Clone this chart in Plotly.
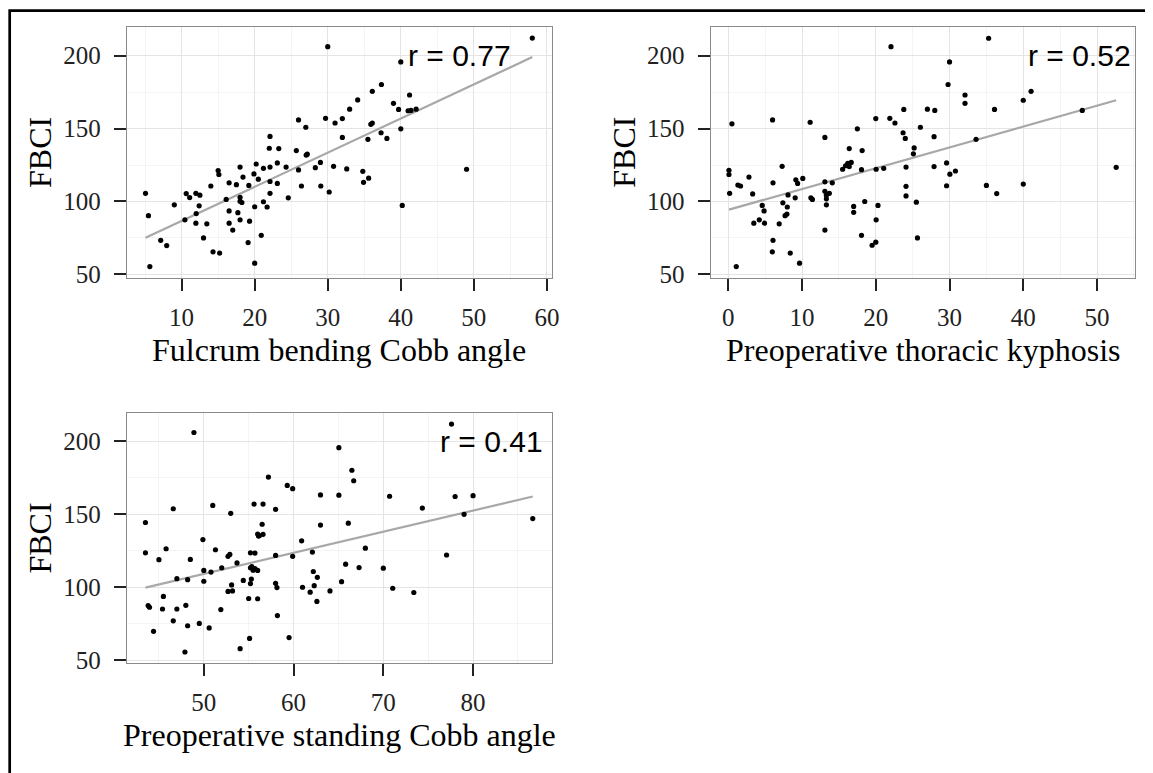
import numpy as np
import plotly.graph_objects as go

# page body has an 8px margin, so the figure is sized/offset to fill the 1153x773 window
OFF = 8
W, H = 1153 - OFF, 773 - OFF

# ---------------- data ----------------
fulcrum_x = [5.06, 5.46, 5.65, 7.14, 7.96, 9.0, 10.45, 10.63, 11.1, 11.95, 12.5, 12.4, 12.0, 11.95,
             13.0, 13.45, 14.0, 14.3, 15.2, 15.0, 15.1, 16.1, 16.5, 16.5, 16.5, 17.0, 17.5, 17.7,
             18.0, 18.0, 18.0, 18.25, 18.4, 18.0, 19.1, 19.3, 19.2, 19.9, 20.2, 20.0, 20.0, 20.5,
             20.9, 21.2, 21.2, 21.7, 22.1, 22.0, 22.1, 22.1, 22.1, 23.1, 23.1, 23.3, 24.3, 24.6,
             25.7, 26.0, 26.0, 26.4, 27.0, 27.05, 27.2, 28.3, 29.0, 29.05, 29.7, 30.0, 30.2, 30.8,
             31.0, 32.0, 32.0, 32.6, 33.0, 34.1, 34.8, 34.9, 35.6, 35.5, 35.9, 36.1, 36.1, 37.3,
             37.35, 38.1, 39.0, 39.7, 40.0, 40.0, 40.2, 41.2, 41.0, 41.4, 42.1, 49.0, 58.0]
fulcrum_y = [105.6, 90.3, 55.4, 73.4, 69.8, 97.7, 87.4, 105.4, 102.7, 105.6, 104.3, 97.0, 91.7, 85.1,
             75.0, 84.7, 110.6, 65.5, 64.6, 121.2, 118.5, 101.4, 112.8, 93.5, 85.1, 80.4, 111.5, 92.3,
             123.6, 102.9, 100.2, 99.3, 116.7, 87.4, 71.8, 86.5, 111.0, 118.9, 125.7, 96.4, 57.7, 115.3,
             76.8, 99.8, 122.7, 96.2, 144.6, 136.5, 123.6, 113.7, 105.6, 126.4, 112.4, 136.3, 123.6, 102.5,
             134.9, 155.9, 121.6, 110.6, 150.9, 131.8, 132.4, 123.2, 126.8, 110.6, 157.0, 206.1, 106.5, 124.1,
             153.8, 156.8, 143.9, 122.3, 163.3, 169.6, 120.7, 113.1, 116.0, 142.6, 152.9, 153.8, 175.5, 147.1,
             180.2, 143.2, 167.3, 163.1, 195.7, 149.8, 97.3, 173.0, 162.2, 162.4, 163.3, 122.1, 212.0]

kyphosis_x = [0.49, 0.09, 0.09, 0.18, 1.08, 1.3, 1.66, 2.8, 3.3, 3.46, 4.2, 4.6, 4.85, 4.9, 6.0, 6.06,
              6.06, 5.97, 6.9, 7.3, 7.4, 7.7, 8.1, 8.0, 7.95, 8.4, 9.07, 9.16, 9.4, 10.1, 9.66, 11.1,
              11.2, 11.4, 13.1, 13.1, 13.1, 13.3, 13.3, 13.3, 13.7, 14.1, 13.1, 15.5, 15.9, 16.2, 16.4,
              16.67, 16.4, 17.0, 17.0, 17.5, 18.06, 18.15, 18.06, 18.5, 19.5, 20.0, 20.05, 20.3, 20.0,
              20.05, 21.07, 21.9, 22.06, 22.6, 23.8, 23.7, 24.0, 24.1, 24.1, 24.1, 25.2, 25.1, 25.5,
              25.65, 26.05, 27.0, 28.0, 27.9, 27.9, 29.6, 29.6, 30.0, 29.8, 30.05, 30.8, 32.1, 32.1,
              33.6, 35.0, 35.3, 36.1, 36.4, 40.0, 41.06, 40.0, 48.0, 52.6]
kyphosis_y = [153.2, 121.4, 118.5, 105.6, 55.4, 111.3, 110.6, 116.7, 105.2, 85.1, 87.4, 97.3, 93.5, 85.1,
              155.9, 112.8, 73.4, 65.5, 84.7, 124.1, 99.1, 90.3, 104.5, 96.2, 91.4, 64.6, 102.5, 114.9,
              112.4, 115.8, 57.7, 154.3, 102.5, 101.4, 143.9, 113.5, 107.0, 104.3, 101.8, 97.7, 105.6,
              112.8, 80.4, 122.1, 124.5, 126.1, 123.9, 126.8, 136.3, 96.6, 92.6, 149.8, 121.8, 134.9,
              76.8, 100.0, 70.0, 72.1, 87.4, 97.3, 156.8, 122.1, 122.7, 157.0, 206.1, 153.8, 163.1,
              147.1, 143.2, 123.6, 110.4, 103.8, 136.7, 132.7, 99.5, 75.0, 150.9, 163.3, 162.4, 144.4,
              123.9, 126.4, 110.8, 195.7, 180.2, 118.7, 120.9, 173.0, 167.3, 142.6, 111.0, 211.9,
              163.1, 105.4, 169.4, 175.5, 111.9, 162.4, 123.4]

standing_x = [48.9, 43.5, 43.5, 45.8, 46.6, 49.9, 51.0, 51.3, 53.0, 52.7, 52.9, 55.2, 55.7, 55.6, 56.6,
              57.2, 56.5, 56.0, 56.2, 56.6, 56.1, 58.0, 58.0, 59.3, 59.9, 59.9, 60.9, 62.1, 63.0, 63.0,
              65.05, 65.05, 66.5, 66.7, 66.1, 68.0, 70.7, 74.35, 77.05, 77.6, 78.0, 79.0, 80.0, 86.65,
              45.0, 48.5, 53.7, 50.0, 50.8, 52.0, 47.0, 48.2, 50.0, 52.7, 53.1, 53.2, 54.4, 55.2, 55.35,
              55.5, 55.7, 56.0, 55.3, 55.2, 55.0, 56.0, 58.0, 58.15, 58.2, 55.1, 54.05, 59.5, 61.0,
              61.85, 62.3, 62.2, 62.65, 62.6, 64.06, 65.35, 65.8, 67.3, 70.0, 71.05, 73.4, 43.8, 43.95,
              45.5, 45.4, 47.0, 48.0, 44.4, 46.6, 48.2, 49.5, 50.6, 47.9, 51.9]
standing_y = [206.1, 144.4, 123.6, 126.4, 153.8, 132.7, 156.1, 125.7, 150.7, 121.2, 122.5, 123.6, 123.4,
              157.0, 157.0, 175.5, 143.2, 136.5, 135.4, 136.3, 135.1, 153.4, 121.8, 169.8, 167.6, 121.2,
              131.8, 124.1, 163.3, 142.6, 195.7, 163.1, 180.2, 173.0, 143.9, 126.8, 162.4, 154.3, 122.1,
              211.9, 162.2, 150.0, 162.8, 147.1,
              118.9, 119.1, 116.7, 111.5, 110.4, 113.3, 105.9, 105.2, 104.1, 97.1, 101.6, 97.5, 104.7,
              113.3, 114.2, 111.7, 112.8, 111.5, 105.6, 102.5, 92.3, 92.1, 102.7, 99.8, 80.6, 64.9, 57.9,
              65.5, 100.0, 96.6, 101.1, 110.8, 106.8, 90.3, 97.5, 103.8, 115.8, 113.5, 113.1, 99.3, 96.4,
              87.4, 86.3, 93.7, 85.1, 85.1, 87.6, 69.8, 77.0, 73.6, 75.2, 72.1, 55.6, 84.7]

x_titles = ["Fulcrum bending Cobb angle", "Preoperative thoracic kyphosis", "Preoperative standing Cobb angle"]
y_title = "FBCI"
r_labels = ["r = 0.77", "r = 0.52", "r = 0.41"]
r_label_x = [48.1, 47.6, 82.1]
r_label_y = [200, 200, 200]

# ---------------- layout geometry (window pixels) ----------------
panels = [
    dict(x=(127.7, 555.3), y=(27.7, 281.5), xr=[2.52, 60.69], yr=[47.84, 219.32], xt=[10, 20, 30, 40, 50, 60]),
    dict(x=(715.0, 1142.3), y=(27.7, 281.5), xr=[-2.39, 55.2], yr=[47.84, 219.32], xt=[0, 10, 20, 30, 40, 50]),
    dict(x=(127.7, 555.3), y=(419.0, 672.5), xr=[41.44, 88.79], yr=[48.1, 219.4], xt=[50, 60, 70, 80]),
]
series = [(fulcrum_x, fulcrum_y), (kyphosis_x, kyphosis_y), (standing_x, standing_y)]


def px(v):
    return (v - OFF) / W


def py(v):
    return 1 - (v - OFF) / H


SERIF = "Liberation Serif"
SANS = "Liberation Sans"
GRID = "#E4E4E4"
MINOR = "#F4F4F4"

fig = go.Figure()
annotations = []
for i, (p, (xs, ys)) in enumerate(zip(panels, series)):
    k = "" if i == 0 else str(i + 1)
    xa, ya = "x" + k, "y" + k
    xs_a, ys_a = np.array(xs), np.array(ys)
    # linear fit (lm) drawn across the data range
    slope, icpt = np.polyfit(xs_a, ys_a, 1)
    lx = np.array([xs_a.min(), xs_a.max()])
    fig.add_trace(go.Scatter(x=lx, y=icpt + slope * lx, mode="lines",
                             line=dict(color="#A8A8A8", width=2.2),
                             xaxis=xa, yaxis=ya, showlegend=False, hoverinfo="skip"))
    fig.add_trace(go.Scatter(x=xs, y=ys, mode="markers",
                             marker=dict(color="black", size=5.2, line=dict(width=0)),
                             xaxis=xa, yaxis=ya, showlegend=False))
    common = dict(showline=True, mirror=True, linecolor="#8A8A8A", linewidth=1.3,
                  ticks="outside", ticklen=12, tickwidth=2.2, tickcolor="#222222",
                  tickfont=dict(family=SERIF, size=25, color="#222222"),
                  showgrid=True, gridcolor=GRID, gridwidth=1.1, zeroline=False,
                  fixedrange=True)
    fig.update_layout(**{
        ("xaxis" + k): dict(common, domain=[px(p["x"][0]), px(p["x"][1])], range=p["xr"],
                            tickvals=p["xt"], anchor=ya, ticklabelstandoff=5,
                            minor=dict(dtick=5, tick0=0, showgrid=True, gridcolor=MINOR, gridwidth=1.1)),
        ("yaxis" + k): dict(common, domain=[py(p["y"][1]), py(p["y"][0])], range=p["yr"],
                            tickvals=[50, 100, 150, 200], anchor=xa, ticklabelstandoff=8,
                            minor=dict(dtick=25, tick0=0, showgrid=True, gridcolor=MINOR, gridwidth=1.1)),
    })
    # r label
    annotations.append(dict(x=r_label_x[i], y=r_label_y[i], xref=xa, yref=ya, text=r_labels[i],
                            showarrow=False, xanchor="center", yanchor="middle",
                            font=dict(family=SANS, size=30, color="black")))
    # x title
    cx = (p["x"][0] + p["x"][1]) / 2
    annotations.append(dict(x=px(cx), y=py(p["y"][1] + 73), xref="paper", yref="paper",
                            text=x_titles[i], showarrow=False, xanchor="center", yanchor="middle",
                            font=dict(family=SERIF, size=32, color="black")))
    # y title
    cy = (p["y"][0] + p["y"][1]) / 2
    annotations.append(dict(x=px(p["x"][0] - 87), y=py(cy), xref="paper", yref="paper",
                            text=y_title, textangle=-90, showarrow=False,
                            xanchor="center", yanchor="middle",
                            font=dict(family=SERIF, size=32, color="black")))

fig.update_layout(
    width=W, height=H, margin=dict(l=0, r=0, t=0, b=0),
    paper_bgcolor="white", plot_bgcolor="white",
    annotations=annotations,
    shapes=[dict(type="rect", xref="paper", yref="paper",
                 x0=px(9.7), y0=py(10.7), x1=1.05, y1=-0.05,
                 line=dict(color="black", width=2.7), fillcolor="rgba(0,0,0,0)")],
)

fig.write_html("out.html")
